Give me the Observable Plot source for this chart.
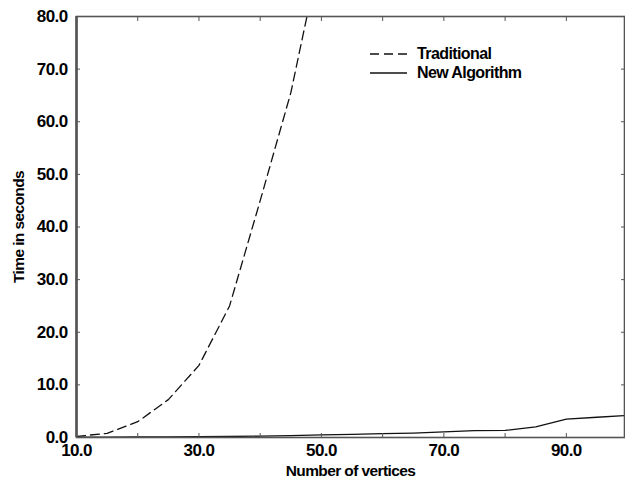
<!DOCTYPE html>
<html>
<head>
<meta charset="utf-8">
<script src="https://cdn.jsdelivr.net/npm/d3@7"></script>
<script src="https://cdn.jsdelivr.net/npm/@observablehq/plot@0.6"></script>
<style>
  html, body { margin: 0; padding: 0; background: #fff; }
  #wrap { position: relative; width: 625px; height: 479px; overflow: hidden; }
  #legend { position: absolute; left: 370px; top: 44px; font: bold 16px "Liberation Sans", Arial, sans-serif; letter-spacing: -0.6px; color: #000; }
  #legend div { display: flex; align-items: center; height: 19.5px; }
  #legend svg { margin-right: 10px; }
</style>
</head>
<body>
<div id="wrap"><div id="legend"></div></div>
<script>
const vertices = [10, 15, 20, 25, 30, 35, 40, 45, 50];
const traditional = [0.2, 0.8, 3.0, 7.2, 13.7, 25.0, 45.0, 65.5, 93.0];
const verticesNew = [10, 15, 20, 25, 30, 35, 40, 45, 50, 55, 60, 65, 70, 75, 80, 85, 90, 95, 100];
const newAlgorithm = [0.05, 0.08, 0.1, 0.12, 0.15, 0.2, 0.25, 0.35, 0.5, 0.6, 0.75, 0.85, 1.05, 1.3, 1.35, 2.0, 3.5, 3.85, 4.2];
const xTicks = [10, 20, 30, 40, 50, 60, 70, 80, 90];
const xLabels = [10, 30, 50, 70, 90];
const yTicks = [0, 10, 20, 30, 40, 50, 60, 70, 80];
const seriesNames = ["Traditional", "New Algorithm"];

const tradData = vertices.map((v, i) => ({x: v, y: traditional[i]}));
const newData = verticesNew.map((v, i) => ({x: v, y: newAlgorithm[i]}));

const font = '"Liberation Sans", Arial, sans-serif';
const ink = "#111";
const frameColor = "#555";

const chart = Plot.plot({
  width: 625,
  height: 479,
  marginLeft: 76,
  marginRight: 1,
  marginTop: 16,
  marginBottom: 42,
  style: {fontFamily: font, fontSize: "17px", fontWeight: "bold", color: "#000", background: "#fff", overflow: "visible"},
  x: {domain: [10, 99.5]},
  y: {domain: [0, 80]},
  marks: [
    Plot.line(tradData, {x: "x", y: "y", stroke: ink, strokeWidth: 1.3, strokeDasharray: "9,5", clip: true}),
    Plot.line(newData, {x: "x", y: "y", stroke: ink, strokeWidth: 1.3, clip: true}),
    Plot.frame({stroke: frameColor, strokeWidth: 1.6}),
    Plot.ruleX([10], {stroke: frameColor, strokeWidth: 2.6}),
    // inward ticks
    Plot.axisX(xTicks, {anchor: "bottom", tickSize: -4, tickFormat: () => "", stroke: frameColor, label: null}),
    Plot.axisX(xTicks, {anchor: "top", tickSize: -4, tickFormat: () => "", stroke: frameColor, label: null}),
    Plot.axisY(yTicks, {anchor: "left", tickSize: -4, tickFormat: () => "", stroke: frameColor, label: null}),
    Plot.axisY(yTicks, {anchor: "right", tickSize: -4, tickFormat: () => "", stroke: frameColor, label: null}),
    // labels
    Plot.axisX(xLabels, {anchor: "bottom", tickSize: 0, tickPadding: 6, tickFormat: d3.format(".1f"),
      label: null, fontSize: 17, fontWeight: "bold"}),
    Plot.axisY(yTicks, {anchor: "left", tickSize: 0, tickPadding: 9, tickFormat: d3.format(".1f"),
      label: null, fontSize: 17, fontWeight: "bold"}),
    Plot.axisX({anchor: "bottom", ticks: [], label: "Number of vertices", labelAnchor: "center", labelArrow: "none", labelOffset: 38, fontSize: 15.5, fontWeight: "bold"}),
    Plot.axisY({anchor: "left", ticks: [], label: "Time in seconds", labelAnchor: "center", labelArrow: "none", labelOffset: 64, fontSize: 15.5, fontWeight: "bold"})
  ]
});
chart.style.letterSpacing = "-0.6px";
document.getElementById("wrap").prepend(chart);

const legend = document.getElementById("legend");
seriesNames.forEach((name, i) => {
  const row = document.createElement("div");
  row.innerHTML = `<svg width="37" height="4"><line x1="0" y1="2" x2="37" y2="2" stroke="${ink}" stroke-width="1.3" ${i === 0 ? 'stroke-dasharray="9,5"' : ""}/></svg><span>${name}</span>`;
  legend.appendChild(row);
});
</script>
</body>
</html>
